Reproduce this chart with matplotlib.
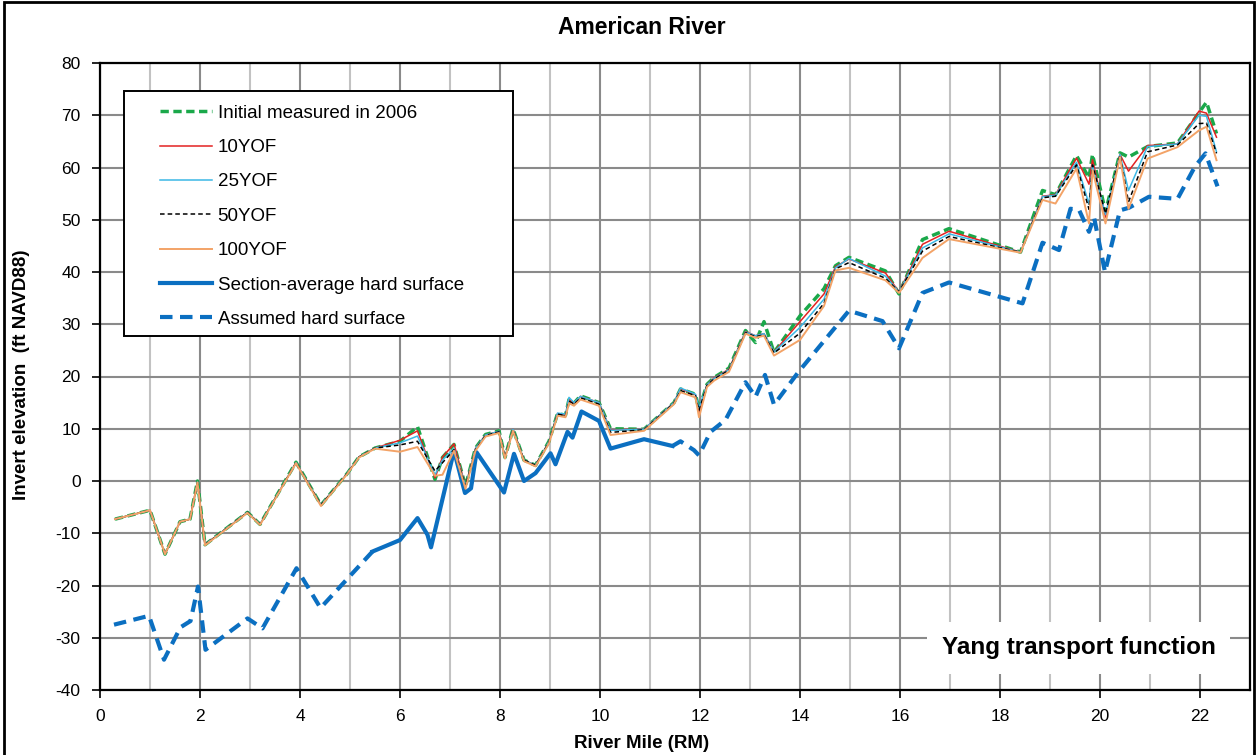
import numpy as np
import matplotlib
matplotlib.use("Agg")
import matplotlib.pyplot as plt
from matplotlib.patches import Rectangle
from matplotlib.ticker import MultipleLocator

plt.rcParams["font.family"] = ["Liberation Sans", "DejaVu Sans"]
plt.rcParams["axes.unicode_minus"] = False

# River mile stations of the bed profiles
bed_x = [0.3, 1.0, 1.3, 1.6, 1.8, 1.95, 2.1, 2.95, 3.2, 3.92, 4.42, 4.95, 5.18, 5.5,
         6.0, 6.35, 6.7, 6.85, 7.08, 7.31, 7.51, 7.71, 7.98, 8.1, 8.26, 8.48, 8.71,
         8.98, 9.15, 9.31, 9.38, 9.48, 9.61, 9.98, 10.21, 10.88, 11.48, 11.61, 11.91,
         11.98, 12.14, 12.28, 12.58, 12.91, 13.11, 13.28, 13.48, 14.0, 14.48, 14.71,
         14.98, 15.71, 15.98, 16.45, 16.98, 18.41, 18.85, 19.11, 19.53, 19.78, 19.85,
         20.11, 20.4, 20.57, 20.95, 21.55, 21.98, 22.13, 22.33]

initial_2006 = [-7.3, -5.6, -14.0, -7.8, -7.3, 0.0, -12.2, -6.0, -8.3, 3.6, -4.6, 1.5, 4.6, 6.3,
                7.6, 10.4, 0.3, 4.5, 7.0, -1.0, 6.3, 8.9, 9.6, 4.5, 10.0, 4.0, 3.0,
                7.6, 12.9, 12.6, 15.6, 14.9, 16.3, 15.0, 10.0, 9.9, 15.0, 17.6, 16.6,
                13.6, 18.5, 19.8, 21.6, 28.8, 26.5, 30.5, 24.6, 31.6, 36.8, 41.2,
                42.8, 40.2, 35.8, 46.2, 48.3, 43.8, 55.6, 54.8, 62.3, 58.0, 62.5,
                51.5, 62.8, 62.0, 64.0, 64.7, 70.5, 72.5, 66.5]

yof10 = [-7.3, -5.6, -14.0, -7.8, -7.3, -0.2, -12.2, -6.0, -8.3, 3.5, -4.6, 1.5, 4.6, 6.3,
         7.8, 9.6, 0.6, 4.6, 7.1, -1.0, 6.2, 8.8, 9.5, 4.5, 9.9, 4.0, 3.0,
         7.5, 12.9, 12.6, 15.7, 14.9, 16.2, 15.0, 9.8, 9.9, 15.0, 17.7, 16.5,
         13.2, 18.4, 19.7, 21.4, 28.6, 27.8, 28.2, 24.7, 30.5, 35.8, 41.0,
         42.5, 39.8, 36.2, 45.3, 47.8, 43.8, 54.5, 54.8, 61.8, 56.8, 61.5,
         50.5, 62.5, 59.3, 64.2, 64.5, 70.8, 70.4, 65.8]

yof25 = [-7.3, -5.6, -14.0, -7.8, -7.3, -0.2, -12.2, -6.0, -8.3, 3.5, -4.6, 1.5, 4.6, 6.3,
         7.3, 8.6, 1.2, 4.0, 6.2, -1.0, 6.2, 8.8, 9.5, 4.5, 9.9, 4.0, 3.0,
         7.5, 13.0, 12.8, 16.0, 15.0, 16.2, 15.0, 9.7, 9.9, 15.0, 17.8, 16.6,
         14.0, 18.4, 19.6, 21.3, 28.5, 27.8, 28.2, 24.7, 29.4, 34.8, 40.8,
         42.6, 39.2, 36.2, 44.6, 47.3, 43.8, 54.4, 54.7, 61.0, 53.0, 60.5,
         51.0, 62.5, 55.6, 64.0, 64.5, 70.0, 69.8, 63.0]

yof50 = [-7.3, -5.6, -14.0, -7.8, -7.3, -0.2, -12.2, -6.0, -8.3, 3.5, -4.6, 1.5, 4.6, 6.3,
         6.9, 7.6, 1.9, 3.5, 6.0, -1.0, 6.0, 8.7, 9.4, 4.5, 9.8, 4.0, 3.0,
         7.4, 12.8, 12.5, 15.3, 14.7, 15.9, 14.7, 9.3, 9.8, 14.9, 17.3, 16.3,
         13.5, 18.3, 19.5, 21.2, 28.4, 27.6, 28.0, 24.5, 28.3, 34.0, 40.6,
         41.8, 38.8, 36.2, 44.0, 46.8, 43.8, 54.2, 54.5, 60.5, 52.0, 60.5,
         51.2, 62.4, 53.4, 63.0, 64.3, 68.4, 68.5, 62.7]

yof100 = [-7.3, -5.6, -14.0, -7.8, -7.3, -0.3, -12.3, -6.1, -8.4, 3.4, -4.8, 1.4, 4.5, 6.2,
          5.6, 6.5, 1.0, 1.2, 5.8, -1.5, 5.8, 8.5, 9.2, 4.3, 9.6, 3.8, 2.8,
          7.2, 12.5, 12.2, 14.9, 14.4, 15.6, 14.4, 8.8, 9.6, 14.7, 17.0, 16.0,
          12.2, 18.0, 19.2, 20.9, 28.2, 27.4, 27.8, 24.0, 27.0, 33.5, 40.3,
          40.8, 38.4, 36.0, 42.7, 46.3, 43.7, 53.8, 53.1, 59.8, 49.3, 59.5,
          49.3, 62.0, 52.1, 61.7, 63.9, 67.1, 67.8, 61.4]

# Section-average hard surface (surveyed reach)
section_x = [5.45, 6.0, 6.35, 6.55, 6.62, 7.08, 7.3, 7.42, 7.53, 8.08, 8.28, 8.48, 8.71,
             9.01, 9.11, 9.35, 9.45, 9.63, 9.98, 10.21, 10.88, 11.45]
section_y = [-13.5, -11.3, -7.1, -10.3, -12.7, 5.8, -2.3, -1.4, 5.5, -2.2, 5.2, 0.0, 1.5,
             5.3, 3.2, 9.4, 8.3, 13.3, 11.5, 6.2, 8.0, 6.7]

# Assumed hard surface, downstream and upstream reaches
assumed_lower_x = [0.28, 0.98, 1.28, 1.61, 1.81, 1.96, 2.11, 2.95, 3.25, 3.93, 4.41, 5.45]
assumed_lower_y = [-27.5, -25.8, -34.2, -28.0, -26.8, -20.2, -32.3, -26.3, -28.2, -16.7,
                   -24.3, -13.5]
assumed_upper_x = [11.45, 11.61, 11.88, 11.98, 12.21, 12.51, 12.91, 13.11, 13.3, 13.48,
                   13.98, 14.98, 15.65, 15.98, 16.45, 16.98, 18.45, 18.85, 19.18, 19.41,
                   19.58, 19.78, 19.88, 20.1, 20.4, 20.58, 20.98, 21.55, 21.9, 22.11, 22.35]
assumed_upper_y = [6.7, 7.6, 5.9, 4.9, 9.4, 11.7, 18.9, 16.1, 20.3, 14.6,
                   21.0, 32.6, 30.6, 25.4, 36.0, 38.0, 34.0, 45.6, 44.2, 52.1,
                   51.9, 47.7, 50.5, 40.0, 51.8, 52.3, 54.4, 54.0, 60.2, 62.7, 56.4]

x_ticks = list(range(0, 23, 2))
y_ticks = list(range(-40, 81, 10))

blue = "#0b6fc1"

fig = plt.figure(figsize=(12.58, 7.55), dpi=100)
ax = fig.add_axes([100 / 1258, 1 - 690 / 755, 1150 / 1258, 627 / 755])

# outer chart border
fig.patches.append(Rectangle((4 / 1258, -0.01), 1250 / 1258, 1.01 - 2 / 755,
                             transform=fig.transFigure, fill=False,
                             edgecolor="black", linewidth=2.0))

ax.plot(bed_x, initial_2006, color="#1aa84a", lw=2.5, dashes=(2.4, 1.3),
        label="Initial measured in 2006", zorder=3)
ax.plot(bed_x, yof10, color="#e32222", lw=1.1, label="10YOF", zorder=4)
ax.plot(bed_x, yof25, color="#3cb8e6", lw=1.1, label="25YOF", zorder=4)
ax.plot(bed_x, yof50, color="black", lw=1.1, dashes=(3, 2), label="50YOF", zorder=5)
ax.plot(bed_x, yof100, color="#f3a367", lw=1.4, label="100YOF", zorder=5)
ax.plot(section_x, section_y, color=blue, lw=3.0,
        label="Section-average hard surface", zorder=3)
ax.plot(assumed_lower_x, assumed_lower_y, color=blue, lw=3.0, dashes=(3.0, 1.8),
        label="Assumed hard surface", zorder=3)
ax.plot(assumed_upper_x, assumed_upper_y, color=blue, lw=3.0, dashes=(3.0, 1.8), zorder=3)

ax.set_xlim(0, 23)
ax.set_ylim(-40, 80)
ax.set_xticks(x_ticks)
ax.set_yticks(y_ticks)
ax.xaxis.set_minor_locator(MultipleLocator(1))
ax.set_axisbelow(True)
ax.grid(which="major", color="#8a8a8a", lw=1.5)
ax.grid(which="minor", axis="x", color="#c2c2c2", lw=1.5)
ax.tick_params(which="major", direction="out", length=6, width=1.2, labelsize=12.5,
               pad=8, colors="black")
ax.tick_params(which="minor", length=0)
for s in ax.spines.values():
    s.set_color("black")
    s.set_linewidth(1.6)

fig.text(642 / 1258, 1 - 744 / 755, "River Mile (RM)", fontsize=13.5, fontweight="bold",
         ha="center", va="center")
fig.text(22 / 1258, 1 - 375 / 755, "Invert elevation  (ft NAVD88)", fontsize=13.5,
         fontweight="bold", ha="center", va="center", rotation=90)
fig.text(642 / 1258, 1 - 27 / 755, "American River", fontsize=16.5, fontweight="bold",
         ha="center", va="center")

ax.text(19.57, -31.9, "Yang transport function", fontsize=17.5, fontweight="bold",
        ha="center", va="center", zorder=6,
        bbox=dict(boxstyle="square,pad=0.6", facecolor="white", edgecolor="none"))

# legend with a square frame
frame = Rectangle((24 / 1150, (690 - 336) / 627), 389 / 1150, 245 / 627,
                  transform=ax.transAxes, facecolor="white", edgecolor="black",
                  linewidth=1.4, zorder=6)
ax.add_patch(frame)
leg = ax.legend(loc="upper left", bbox_to_anchor=(54 / 1150, (690 - 99) / 627),
                borderaxespad=0, frameon=False, fontsize=13.5, handlelength=2.77,
                handletextpad=0.32, labelspacing=0.92, borderpad=0.3)
leg.set_zorder(7)

fig.savefig("out.png", dpi=100)
